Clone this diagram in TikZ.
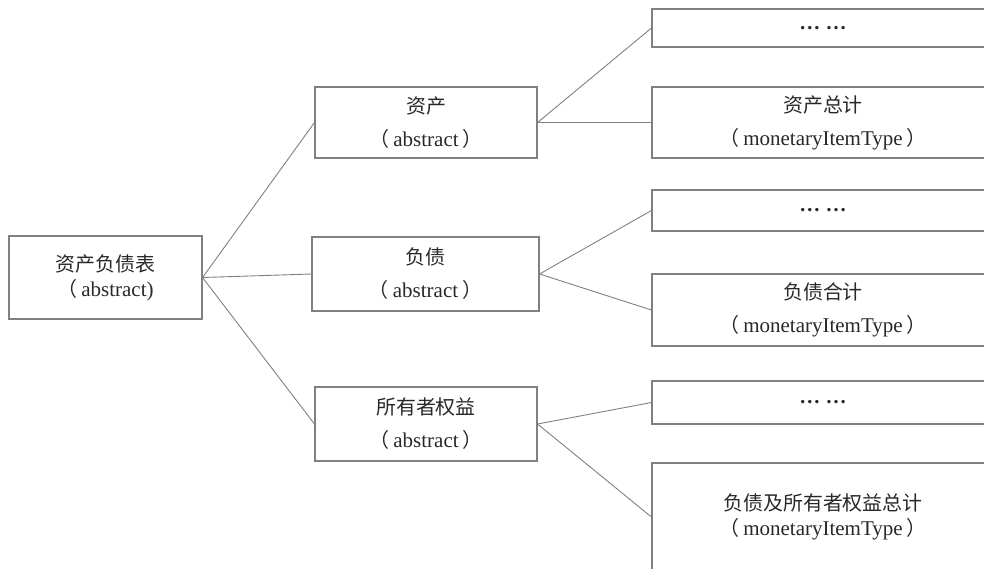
\documentclass[tikz,border=0pt]{standalone}
\usepackage{fontspec}
\setmainfont{Liberation Serif}
\newfontfamily\cjk[Scale=0.95]{Noto Sans CJK SC}
\newcommand{\lpar}{{\cjk （}\hspace{4pt}}
\newcommand{\rpar}{\hspace{4pt}{\cjk ）}}
\definecolor{edge}{RGB}{128,128,128}
\definecolor{txt}{RGB}{40,40,40}
\tikzset{
  box/.style={draw=edge, line width=1.1pt, rectangle, inner sep=0pt, align=center, text=txt,
    font=\fontsize{21}{33}\selectfont},
  tight/.style={font=\fontsize{21}{25}\selectfont},
  link/.style={draw=edge, line width=0.9pt}
}
\begin{document}
\begin{tikzpicture}[x=1pt,y=-1pt]
\useasboundingbox (0,0) rectangle (984,568);
\begin{scope}
\clip (0,0) rectangle (984,568);
\node[box, tight, minimum width=193, minimum height=83] (root) at (105.5,277.5) {{\cjk 资产负债表}\\\lpar abstract)};
\node[box, minimum width=222, minimum height=71] (asset) at (426,122.5) {{\cjk 资产}\\\lpar abstract\rpar};
\node[box, minimum width=227, minimum height=74] (liab) at (425.5,274) {{\cjk 负债}\\\lpar abstract\rpar};
\node[box, minimum width=222, minimum height=74] (equity) at (426,424) {{\cjk 所有者权益}\\\lpar abstract\rpar};
\node[box, minimum width=342, minimum height=38] (d1) at (823,28) {\textbf{…\ …}};
\node[box, minimum width=342, minimum height=71] (atot) at (823,122.5) {{\cjk 资产总计}\\\lpar monetaryItemType\rpar};
\node[box, minimum width=342, minimum height=41] (d2) at (823,210.5) {\textbf{…\ …}};
\node[box, minimum width=342, minimum height=72] (ltot) at (823,310) {{\cjk 负债合计}\\\lpar monetaryItemType\rpar};
\node[box, minimum width=342, minimum height=43] (d3) at (823,402.5) {\textbf{…\ …}};
\node[box, tight, minimum width=342, minimum height=108] (etot) at (823,517) {{\cjk 负债及所有者权益总计}\\\lpar monetaryItemType\rpar};
\draw[link] (root.east) -- (asset.west);
\draw[link] (root.east) -- (liab.west);
\draw[link] (root.east) -- (equity.west);
\draw[link] (asset.east) -- (d1.west);
\draw[link] (asset.east) -- (atot.west);
\draw[link] (liab.east) -- (d2.west);
\draw[link] (liab.east) -- (ltot.west);
\draw[link] (equity.east) -- (d3.west);
\draw[link] (equity.east) -- (etot.west);
\end{scope}
\end{tikzpicture}
\end{document}
